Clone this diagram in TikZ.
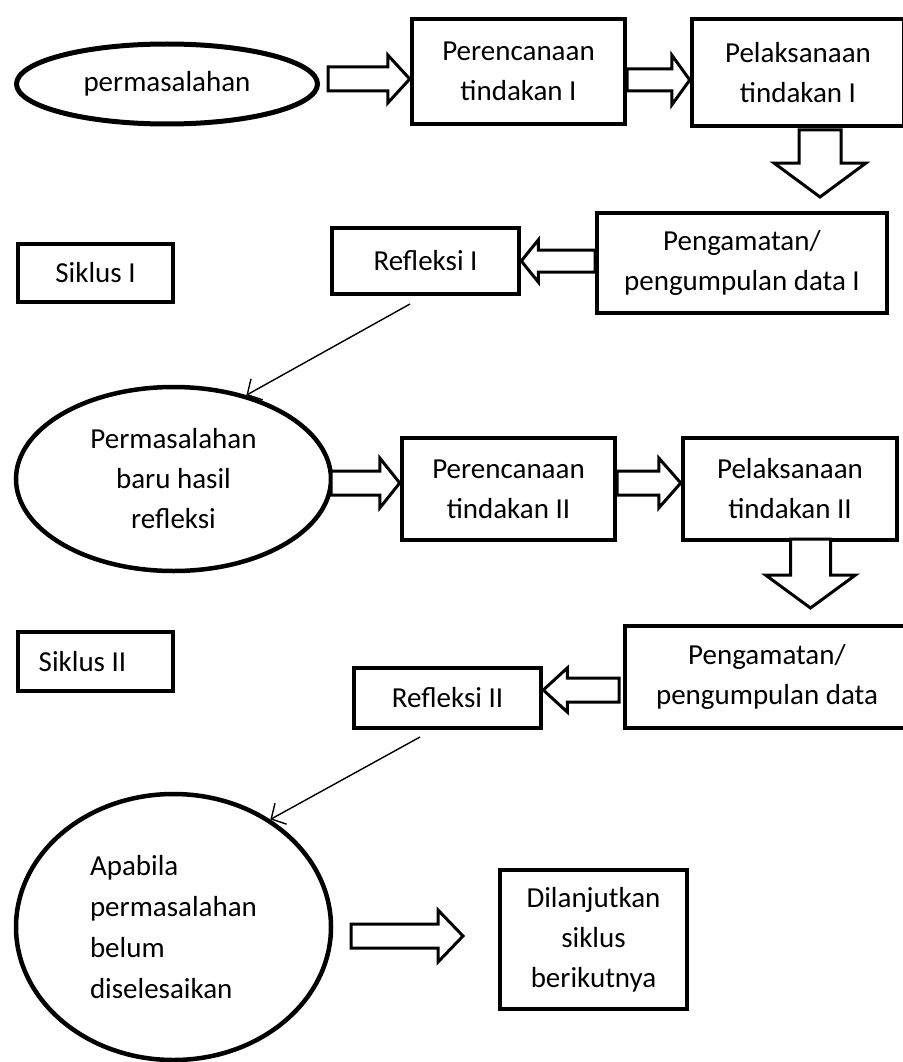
\documentclass[tikz,border=0pt]{standalone}
\usepackage{fontspec}
\setmainfont{Carlito}
\usetikzlibrary{shapes.geometric,arrows.meta,calc}
\tikzset{
  txt/.style={font=\fontsize{29}{40}\selectfont, align=center, inner sep=0pt},
  box/.style={txt, draw, line width=4.5pt, rectangle},
  ell/.style={txt, draw, line width=4.5pt, ellipse},
  blk/.style={draw, line width=3pt, fill=white, line join=miter},
  thinarr/.style={line width=1.4pt, -{Straight Barb[length=11pt,width=24pt,line width=1.4pt]}}
}
% horizontal block arrow: #1 start, #2 tip, #3 shaft half, #4 head half, #5 head length (signed)
\newcommand\harr[5]{%
  \draw[blk] let \p1=(#1),\p2=(#2) in
   (\x1,{\y2+#3}) -- ({\x2-#5},{\y2+#3}) -- ({\x2-#5},{\y2+#4}) -- (\x2,\y2)
   -- ({\x2-#5},{\y2-#4}) -- ({\x2-#5},{\y2-#3}) -- (\x1,{\y2-#3}) -- cycle;}
% vertical (downward) block arrow
\newcommand\varr[5]{%
  \draw[blk] let \p1=(#1),\p2=(#2) in
   ({\x2+#3},\y1) -- ({\x2+#3},{\y2+#5}) -- ({\x2+#4},{\y2+#5}) -- (\x2,\y2)
   -- ({\x2-#4},{\y2+#5}) -- ({\x2-#3},{\y2+#5}) -- ({\x2-#3},\y1) -- cycle;}
\begin{document}
\begin{tikzpicture}[x=1pt,y=-1pt]
\useasboundingbox (0,0) rectangle (902,1062);
\fill[white] (0,0) rectangle (902,1062);

% Cycle I
\node[ell, minimum width=301pt, minimum height=80pt, line width=5pt] (e1) at (167,84) {permasalahan};
\node[box, minimum width=213pt, minimum height=105pt] (p1) at (518.5,71.5) {Perencanaan\\tindakan I};
\node[box, minimum width=212pt, minimum height=107pt] (l1) at (798,72.5) {Pelaksanaan\\tindakan I};
\node[box, minimum width=290pt, minimum height=100pt] (g1) at (742,263) {Pengamatan/\\pengumpulan data I};
\node[box, minimum width=187pt, minimum height=66pt] (r1) at (425.5,261) {Refleksi I};
\node[box, minimum width=155pt, minimum height=58pt] (s1) at (95.5,273) {Siklus I};

% Cycle II
\node[ell, minimum width=315pt, minimum height=184pt] (e2) at (173.5,479) {Permasalahan\\baru hasil\\refleksi};
\node[box, minimum width=213pt, minimum height=102pt] (p2) at (508.5,489) {Perencanaan\\tindakan II};
\node[box, minimum width=214pt, minimum height=102pt] (l2) at (790,489) {Pelaksanaan\\tindakan II};
\node[box, minimum width=284pt, minimum height=102pt] (g2) at (767,677) {Pengamatan/\\pengumpulan data};
\node[box, minimum width=187pt, minimum height=60pt] (r2) at (447.5,698) {Refleksi II};
\node[box, minimum width=155pt, minimum height=59pt] (s2) at (95.5,661.5) {Siklus II\kern26pt};

% End
\node[ell, minimum width=315pt, minimum height=266pt, align=left, font=\fontsize{29}{41}\selectfont] (e3) at (173.5,927) {Apabila\\permasalahan\\belum\\diselesaikan};
\node[box, minimum width=187pt, minimum height=139pt] (dl) at (593.5,939.5) {Dilanjutkan\\siklus\\berikutnya};

% block arrows
\coordinate (a1s) at (328,79);
\harr{a1s}{p1.west|-a1s}{12pt}{24pt}{22pt}
\coordinate (a2s) at (627,80);
\harr{a2s}{l1.west|-a2s}{11pt}{25pt}{18pt}
\coordinate (d1s) at (820,130);
\coordinate (d1t) at (820,197);
\varr{d1s}{d1t}{21pt}{46pt}{34pt}
\coordinate (b1s) at (595,261);
\harr{b1s}{r1.east|-b1s}{11pt}{21pt}{-17pt}

\coordinate (a3s) at (331,483);
\harr{a3s}{p2.west|-a3s}{12pt}{25pt}{20pt}
\coordinate (a4s) at (617,483);
\harr{a4s}{l2.west|-a4s}{12pt}{25pt}{22pt}
\coordinate (d2s) at (810.5,539);
\coordinate (d2t) at (810.5,608);
\varr{d2s}{d2t}{20pt}{45pt}{33pt}
\coordinate (b2s) at (619,690);
\harr{b2s}{r2.east|-b2s}{12pt}{22pt}{-24pt}

\coordinate (a5s) at (351,936);
\coordinate (a5t) at (463,936);
\harr{a5s}{a5t}{12pt}{26pt}{25pt}

% thin arrows
\coordinate (t1) at (410,304);
\draw[thinarr] (t1) -- (e2.49);
\coordinate (t2) at (420,737);
\draw[thinarr] (t2) -- (e3.48);
\end{tikzpicture}
\end{document}
